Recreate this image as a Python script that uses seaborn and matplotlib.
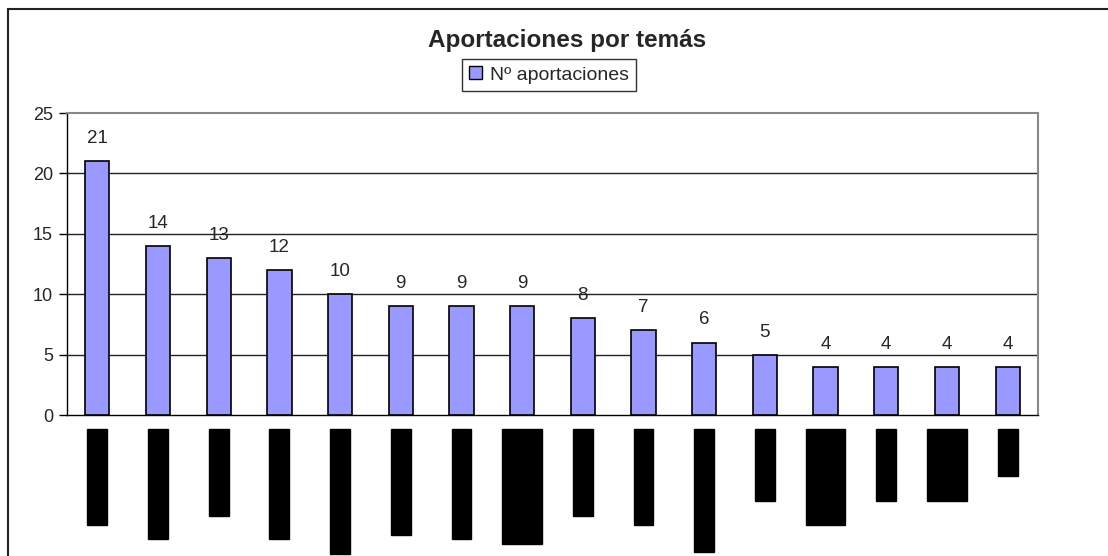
import matplotlib
matplotlib.use("Agg")
import matplotlib.pyplot as plt
import seaborn as sns
import numpy as np
from matplotlib.patches import Rectangle, Patch

# Category labels are redacted (blacked out) in the reference; placeholders of similar length
categories = ["Tema 01 oc", "Tema 02 ocul", "Tema 03 o", "Tema 04 ocul",
              "Tema 05 oculto", "Tema 06 ocu", "Tema 07 ocul",
              "Tema 08 ocult\nTema 08 oc", "Tema 09 o", "Tema 10 oc",
              "Tema 11 oculto", "Tema 12", "Tema\nTema 13 oc", "Tema 14",
              "Tema 15\nTema 15", "Tema"]
values = [21, 14, 13, 12, 10, 9, 9, 9, 8, 7, 6, 5, 4, 4, 4, 4]
title = "Aportaciones por temás"
series_name = "Nº aportaciones"
yticks = [0, 5, 10, 15, 20, 25]

sns.set_theme(style="white")
plt.rcParams['font.family'] = ['Liberation Sans', 'DejaVu Sans']

fig = plt.figure(figsize=(11.08, 5.56), dpi=100)
W, H = 1108, 556
ax = fig.add_axes([67 / W, 1 - 415 / H, (1038 - 67) / W, (415 - 113) / H])

bar_color = "#9999FF"
sns.barplot(x=np.arange(len(values)), y=values, color=bar_color, saturation=1,
            width=0.4, edgecolor="black", linewidth=1.2, ax=ax, zorder=3)

ax.set_xlim(-0.5, len(values) - 0.5)
ax.set_ylim(0, 25)
ax.set_yticks(yticks)
ax.set_yticklabels([str(t) for t in yticks], fontsize=13)
for t in yticks[1:-1]:
    ax.axhline(t, color="#222222", linewidth=1, zorder=1)

# x tick labels (redacted look, as in the reference)
ax.set_xticks(np.arange(len(values)))
ax.set_xticklabels(categories, rotation=90, fontsize=13, va="top", ha="center",
                   multialignment="center")
for lab in ax.get_xticklabels():
    lab.set_color("black")
    lab.set_bbox(dict(facecolor="black", edgecolor="black", pad=1))
ax.tick_params(axis="x", which="major", length=0, pad=11)
ax.set_xticks(np.arange(len(values) + 1) - 0.5, minor=True)
ax.tick_params(axis="x", which="minor", length=6, width=1, color="#777777", direction="out")
ax.tick_params(axis="y", which="major", length=6, width=1, color="black", direction="out",
               left=True, pad=4)
ax.set_xlabel("")
ax.set_ylabel("")

for s in ["top", "right"]:
    ax.spines[s].set_color("#888888")
    ax.spines[s].set_linewidth(1.5)
for s in ["left", "bottom"]:
    ax.spines[s].set_color("black")
    ax.spines[s].set_linewidth(1)

# value labels
for i, v in enumerate(values):
    ax.annotate(str(v), (i, v), xytext=(0, 13), textcoords="offset points",
                ha="center", va="baseline", fontsize=13.5)

fig.text(567 / W, 1 - 40 / H, title, ha="center", va="center", fontsize=17.5,
         fontweight="bold")
leg = fig.legend(handles=[Patch(facecolor=bar_color, edgecolor="black", label=series_name)],
                 loc="center", bbox_to_anchor=(549 / W, 1 - 75 / H), fontsize=14,
                 frameon=True, fancybox=False, handlelength=0.65, handleheight=0.65,
                 handletextpad=0.4, borderpad=0.4, borderaxespad=0)
leg.get_frame().set_edgecolor("black")
leg.get_frame().set_linewidth(1)

# outer chart border
fig.patches.append(Rectangle((8 / W, -0.05), 1.2, 1 - 9 / H + 0.05, transform=fig.transFigure,
                             fill=False, edgecolor="#222222", linewidth=1.5))

fig.savefig("out.png", dpi=100)
